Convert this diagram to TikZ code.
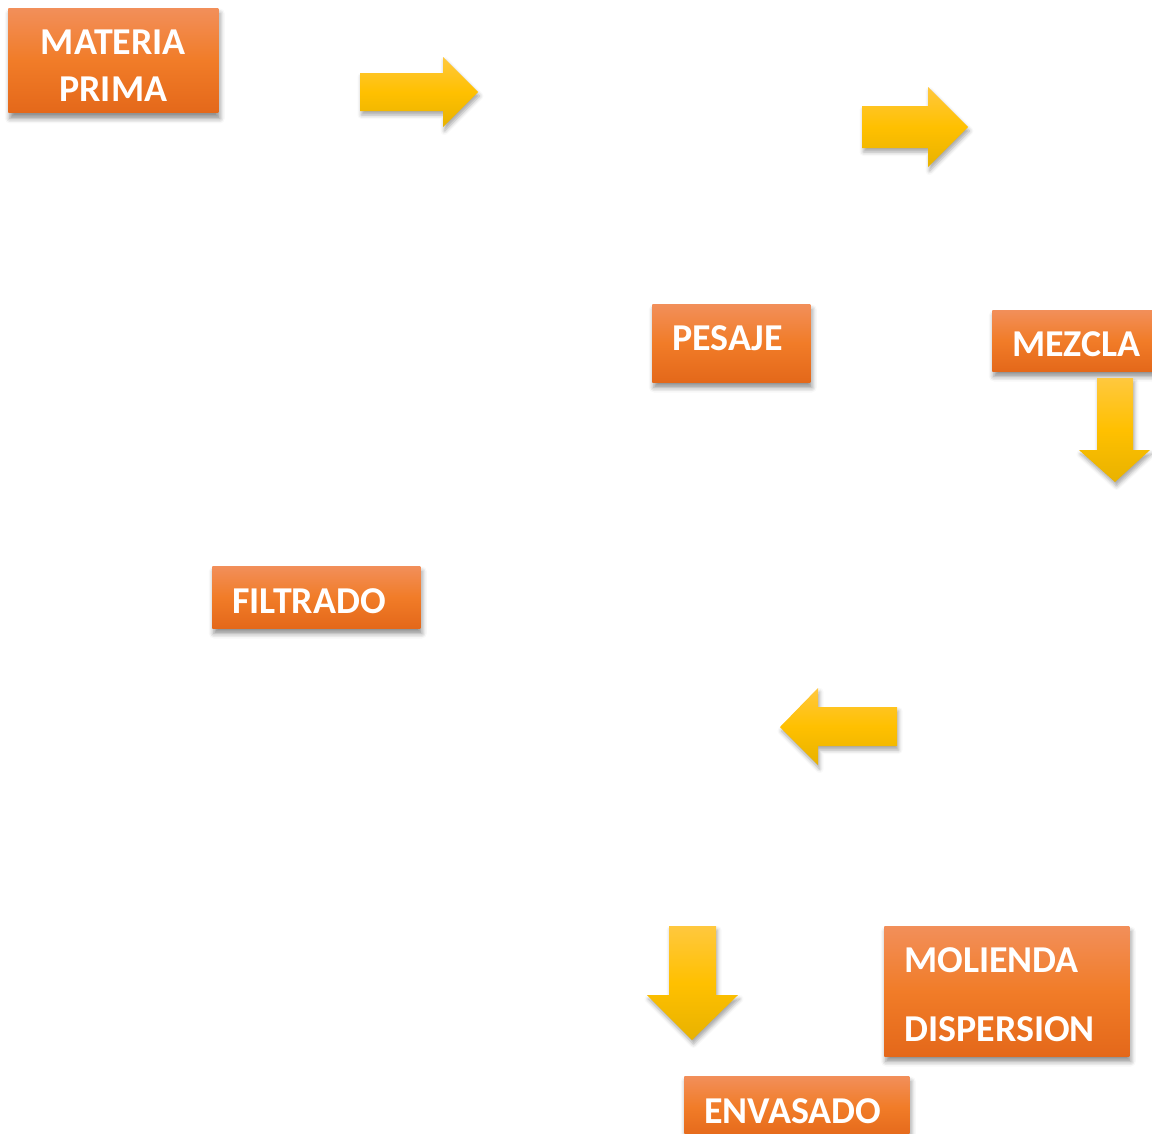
\documentclass[tikz,border=0pt]{standalone}
\usepackage{fontspec}
\setmainfont{Carlito}
\usepackage{tikz}
\usetikzlibrary{positioning}
\usetikzlibrary{shadows.blur}
\definecolor{naranjaA}{RGB}{242,143,90}
\definecolor{naranjaB}{RGB}{241,124,40}
\definecolor{naranjaC}{RGB}{228,104,26}
\definecolor{amarilloA}{RGB}{255,200,62}
\definecolor{amarilloB}{RGB}{255,192,0}
\definecolor{amarilloC}{RGB}{232,178,0}
\tikzstyle{paso} = [rectangle, anchor=base west, inner xsep=4mm, inner ysep=0pt, align=left,
text=white, font=\fontsize{21.6}{27}\selectfont\bfseries, top color=naranjaA, bottom color=naranjaC,
middle color=naranjaB, blur shadow={shadow xshift=0.3mm, shadow yshift=-1.1mm, shadow blur radius=1mm, shadow opacity=45}]
\tikzstyle{flecha} = [top color=amarilloA, bottom color=amarilloC, middle color=amarilloB,
blur shadow={shadow xshift=0.3mm, shadow yshift=-0.8mm, shadow blur radius=0.8mm, shadow opacity=35}]

\begin{document}
\begin{tikzpicture}[x=0.02cm, y=-0.02cm]
  \useasboundingbox (0,0) rectangle (1152,1133);
  % cajas (anclas en la linea base del texto)
  \node (materia) [paso, align=center, text width=34mm, text height=9.3mm, text depth=11.7mm] at (8,54.5) {MATERIA\\PRIMA};
  \node (pesaje) [paso, text width=23.6mm, text height=9.2mm, text depth=6.4mm] at (652,350) {PESAJE};
  \node (mezcla) [paso, text width=26mm, text height=9.2mm, text depth=3mm] at (992,356) {MEZCLA};
  \node (filtrado) [paso, text width=33.6mm, text height=9.4mm, text depth=3mm] at (212,613) {FILTRADO};
  \node (molienda) [paso, text width=41mm, text height=9.2mm, text depth=16.8mm] at (884,972) {MOLIENDA\\[4.5mm]DISPERSION};
  \node (envasado) [paso, text width=37mm, text height=9.4mm, text depth=3mm] at (684,1123) {ENVASADO};
  % flechas de bloque
  \path[flecha] (360,73) -- (443,73) -- (443,57) -- (478,92) -- (443,127) -- (443,111) -- (360,111) -- cycle;
  \path[flecha] (862,106) -- (928,106) -- (928,87) -- (968,127) -- (928,167) -- (928,148) -- (862,148) -- cycle;
  \path[flecha] (1097,378) -- (1133,378) -- (1133,450) -- (1150,450) -- (1115,482) -- (1079,450) -- (1097,450) -- cycle;
  \path[flecha] (897,707) -- (818,707) -- (818,688) -- (780,727) -- (818,765) -- (818,746) -- (897,746) -- cycle;
  \path[flecha] (669,926) -- (716,926) -- (716,995) -- (738,995) -- (692,1040) -- (647,995) -- (669,995) -- cycle;
\end{tikzpicture}
\end{document}
